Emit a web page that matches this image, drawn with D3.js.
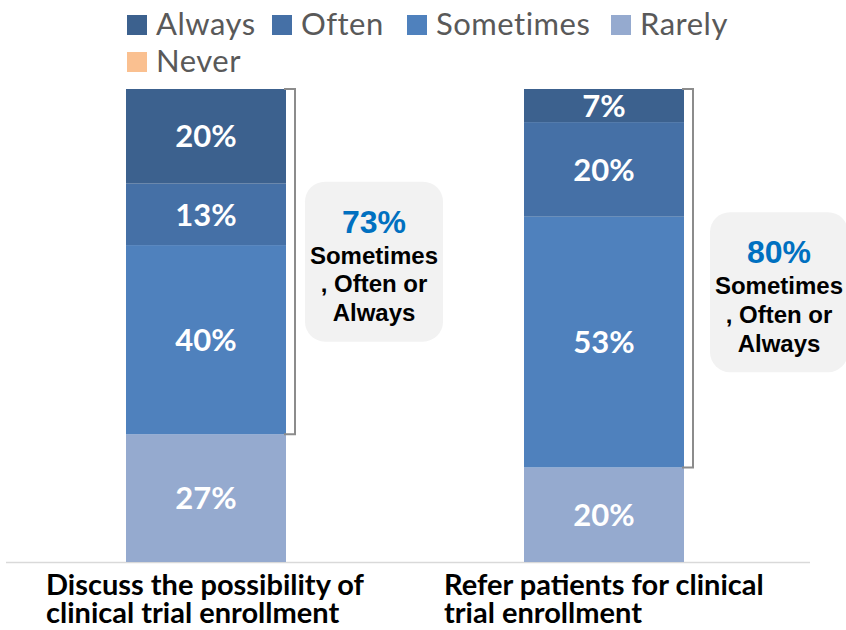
<!DOCTYPE html>
<html>
<head>
<meta charset="utf-8">
<title>Clinical trial enrollment</title>
<script src="https://cdn.jsdelivr.net/npm/d3@7"></script>
<style>
body { margin: 0; background: #fff; }
</style>
</head>
<body>
<div id="chart"></div>
<script>
// data
var categories = ["Discuss the possibility of clinical trial enrollment",
                  "Refer patients for clinical trial enrollment"];
var catLines = [["Discuss the possibility of", "clinical trial enrollment"],
                ["Refer patients for clinical", "trial enrollment"]];
var series = ["Always", "Often", "Sometimes", "Rarely", "Never"];
var always    = [20, 7];
var often     = [13, 20];
var sometimes = [40, 53];
var rarely    = [27, 20];
var never     = [0, 0];
var colors = ["#3C618E", "#4570A6", "#4F81BD", "#95AACF", "#FAC090"];

var width = 846, height = 630;
var top0 = 89, base = 562;

var svg = d3.select("#chart").append("svg")
    .attr("width", width)
    .attr("height", height);

var rows = categories.map(function(c, i) {
    return {cat: c, Always: always[i], Often: often[i], Sometimes: sometimes[i],
            Rarely: rarely[i], Never: never[i]};
});

// stack from the bottom: Never, Rarely, Sometimes, Often, Always
var stackOrder = series.slice().reverse();
var stacked = d3.stack().keys(stackOrder)(rows);

var x = d3.scaleBand().domain(categories).range([7, 803])
    .paddingInner(0.598).paddingOuter(0.299);
var y = d3.scaleLinear().domain([0, 100]).range([base, top0]);
var color = d3.scaleOrdinal().domain(series).range(colors);

// axis line
svg.append("line")
    .attr("x1", 6).attr("x2", 810)
    .attr("y1", base + 0.5).attr("y2", base + 0.5)
    .attr("stroke", "#D9D9D9").attr("stroke-width", 1.5);

var layers = svg.selectAll(".layer")
    .data(stacked)
    .enter().append("g")
    .attr("class", "layer")
    .attr("fill", function(d) { return color(d.key); });

layers.selectAll("rect")
    .data(function(d) { return d; })
    .enter().append("rect")
    .attr("x", function(d) { return x(d.data.cat); })
    .attr("y", function(d) { return y(d[1]); })
    .attr("width", x.bandwidth())
    .attr("height", function(d) { return y(d[0]) - y(d[1]); });

layers.selectAll("text")
    .data(function(d) { return d.filter(function(p) { return p[1] - p[0] > 0; }); })
    .enter().append("text")
    .attr("x", function(d) { return x(d.data.cat) + x.bandwidth() / 2; })
    .attr("y", function(d) { return (y(d[0]) + y(d[1])) / 2; })
    .attr("dy", "0.36em")
    .attr("text-anchor", "middle")
    .attr("fill", "#fff")
    .style("font-family", "Lato, sans-serif")
    .style("font-weight", 700)
    .style("font-size", "31px")
    .text(function(d) { return (d[1] - d[0]) + "%"; });

// brackets + callouts (Sometimes, Often or Always)
var callouts = [{bx: 9, gap: 10, dy: 0}, {bx: 9, gap: 17, dy: 14}];
categories.forEach(function(c, i) {
    var total = always[i] + often[i] + sometimes[i];
    var xr = x(c) + x.bandwidth() + callouts[i].bx;
    var yt = y(rarely[i] + never[i] + sometimes[i] + often[i] + always[i]);
    var yb = y(rarely[i] + never[i]);
    svg.append("path")
        .attr("d", "M" + (xr - 11) + "," + yt + "H" + xr + "V" + yb + "H" + (xr - 11))
        .attr("fill", "none")
        .attr("stroke", "#8C8C8C")
        .attr("stroke-width", 2);

    var bw = 138, bh = 160;
    var bx = xr + callouts[i].gap;
    var by = (yt + yb) / 2 - bh / 2 + callouts[i].dy;
    svg.append("rect")
        .attr("x", bx).attr("y", by)
        .attr("width", bw).attr("height", bh)
        .attr("rx", 20).attr("ry", 20)
        .attr("fill", "#F2F2F2");
    var cx = bx + bw / 2;
    svg.append("text")
        .attr("x", cx).attr("y", by + 51)
        .attr("text-anchor", "middle")
        .attr("fill", "#0070C0")
        .style("font-family", "'Liberation Sans', Arial, sans-serif")
        .style("font-weight", 700)
        .style("font-size", "32px")
        .text(total + "%");
    ["Sometimes", ", Often or", "Always"].forEach(function(t, k) {
        svg.append("text")
            .attr("x", cx).attr("y", by + 82 + k * 28.7)
            .attr("text-anchor", "middle")
            .attr("fill", "#000")
            .style("font-family", "'Liberation Sans', Arial, sans-serif")
            .style("font-weight", 700)
            .style("font-size", "24px")
            .text(t);
    });
});

// category labels
categories.forEach(function(c, i) {
    var t = svg.append("text")
        .attr("x", x(c) - 80)
        .attr("y", 595)
        .attr("fill", "#000")
        .style("font-family", "Lato, sans-serif")
        .style("font-weight", 700)
        .style("font-size", "29px");
    catLines[i].forEach(function(line, k) {
        t.append("tspan")
            .attr("x", x(c) - 80)
            .attr("dy", k === 0 ? 0 : 28)
            .text(line);
    });
});

// legend (Excel-style columns)
var legendX = [127, 272, 407, 611, 127];
var legend = svg.append("g").attr("class", "legend");
series.forEach(function(s, i) {
    var ly = s === "Never" ? 52 : 15;
    var g = legend.append("g").attr("transform", "translate(" + legendX[i] + "," + ly + ")");
    g.append("rect").attr("width", 20).attr("height", 20).attr("fill", color(s));
    g.append("text")
        .attr("x", 29).attr("y", 20)
        .attr("fill", "#595959")
        .style("font-family", "Lato, sans-serif")
        .style("font-size", "31px")
        .style("letter-spacing", "0.5px")
        .text(s);
});
</script>
</body>
</html>
